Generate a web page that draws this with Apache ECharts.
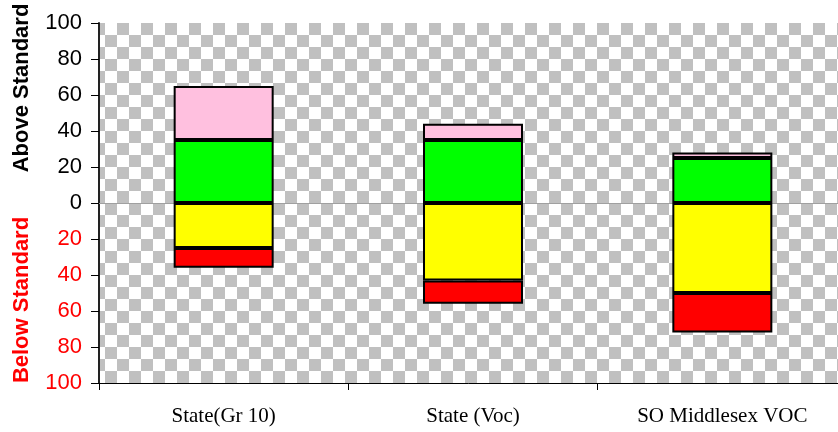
<!DOCTYPE html>
<html>
<head>
<meta charset="utf-8">
<script src="https://cdn.jsdelivr.net/npm/echarts@6/dist/echarts.min.js"></script>
<style>
  html, body { margin: 0; padding: 0; background: #fff; }
  #chart { width: 838px; height: 432px; }
</style>
</head>
<body>
<div id="chart"></div>
<script>
// Categories and performance bands (percent of students)
const categories = ['State(Gr 10)', 'State (Voc)', 'SO Middlesex VOC'];
const proficient = [35, 35, 25];          // green, above 0
const advanced = [30, 9, 3];              // pink, stacked on green
const needsImprovement = [-25, -43, -50]; // yellow, below 0
const warning = [-11, -13, -22];          // red, stacked under yellow
const yTicks = { min: -100, max: 100, step: 20 };

// Grey/white checkerboard used as the plot background
function checkerCanvas(cell) {
  const c = document.createElement('canvas');
  c.width = c.height = cell * 2;
  const g = c.getContext('2d');
  g.fillStyle = '#ffffff';
  g.fillRect(0, 0, cell * 2, cell * 2);
  g.fillStyle = '#c0c0c0';
  g.fillRect(0, 0, cell, cell);
  g.fillRect(cell, cell, cell, cell);
  return c;
}

const chart = echarts.init(document.getElementById('chart'));

const barStyle = (color) => ({
  color: color,
  borderColor: '#000',
  borderWidth: 2
});

chart.setOption({
  animation: false,
  grid: {
    left: 99, width: 748, top: 23, bottom: 49,
    outerBoundsMode: 'none',
    containLabel: false,
    show: true,
    borderWidth: 0,
    backgroundColor: { image: checkerCanvas(12), repeat: 'repeat', x: -3, y: -1 }
  },
  xAxis: [{
    type: 'category',
    data: categories,
    position: 'bottom',
    axisLine: { onZero: false, lineStyle: { color: '#000', width: 1 } },
    axisTick: { show: true, length: 7, lineStyle: { color: '#000' } },
    axisLabel: {
      margin: 23,
      fontFamily: 'Liberation Serif',
      fontSize: 21,
      color: '#000'
    },
    splitLine: { show: false }
  }, {
    type: 'category',
    data: categories,
    position: 'top',
    axisLine: { lineStyle: { color: '#a0a0a0', width: 1 } },
    axisTick: { show: false },
    axisLabel: { show: false }
  }],
  yAxis: {
    type: 'value',
    min: yTicks.min,
    max: yTicks.max,
    interval: yTicks.step,
    axisLine: { show: true, lineStyle: { color: '#222', width: 2 } },
    axisTick: { show: true, length: 8, lineStyle: { color: '#000' } },
    splitLine: { show: false },
    axisLabel: {
      margin: 17,
      fontFamily: 'Liberation Sans',
      fontSize: 22,
      formatter: (v) => String(Math.abs(v)),
      color: (v) => (Number(v) < 0 ? '#ff0000' : '#000000')
    }
  },
  graphic: [
    {
      type: 'text',
      x: 22, y: 88,
      rotation: Math.PI / 2,
      style: {
        text: 'Above Standard',
        fontFamily: 'Liberation Sans',
        fontWeight: 'bold',
        fontSize: 22,
        fill: '#000',
        align: 'center',
        verticalAlign: 'middle'
      }
    },
    {
      type: 'text',
      x: 22, y: 300,
      rotation: Math.PI / 2,
      style: {
        text: 'Below Standard',
        fontFamily: 'Liberation Sans',
        fontWeight: 'bold',
        fontSize: 22,
        fill: '#ff0000',
        align: 'center',
        verticalAlign: 'middle'
      }
    }
  ],
  series: [
    { name: 'Proficient', type: 'bar', stack: 'mcas', barWidth: 100, data: proficient, itemStyle: barStyle('#00ff00') },
    { name: 'Advanced', type: 'bar', stack: 'mcas', barWidth: 100, data: advanced, itemStyle: barStyle('#ffc0df') },
    { name: 'Needs Improvement', type: 'bar', stack: 'mcas', barWidth: 100, data: needsImprovement, itemStyle: barStyle('#ffff00') },
    { name: 'Warning', type: 'bar', stack: 'mcas', barWidth: 100, data: warning, itemStyle: barStyle('#ff0000') }
  ]
});
</script>
</body>
</html>
